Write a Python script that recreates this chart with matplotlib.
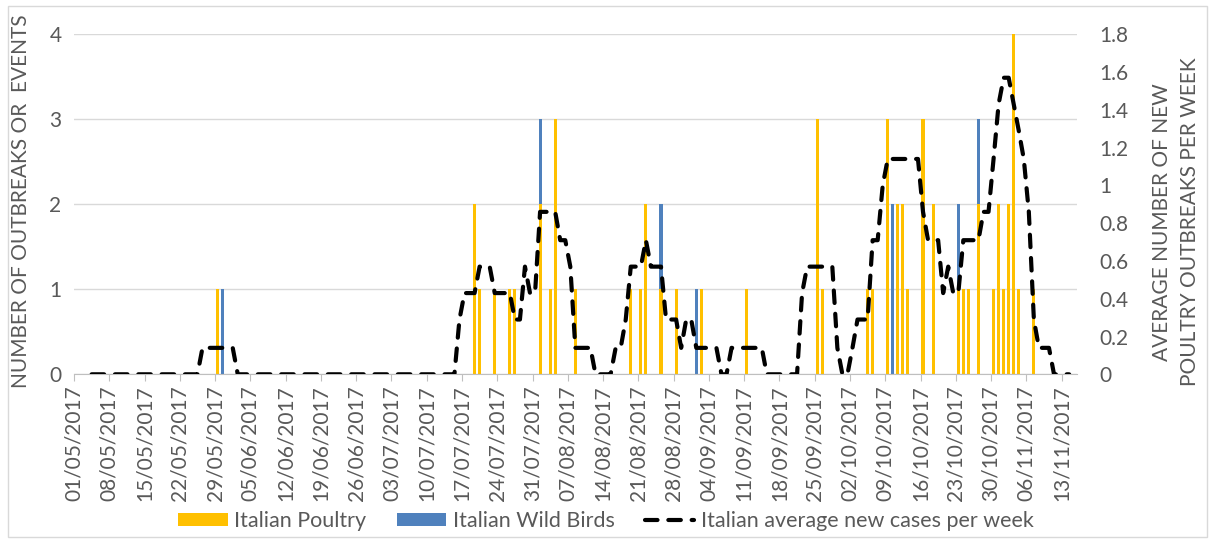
import matplotlib.pyplot as plt
import numpy as np
from datetime import date, timedelta
from matplotlib.patches import Rectangle

plt.rcParams['font.family'] = ['Lato', 'DejaVu Sans']

start = date(2017, 5, 1)
n_days = 199  # 01/05/2017 .. 16/11/2017

# outbreaks per day, day number counted from 01/05/2017
poultry_days = [28, 79, 80, 83, 86, 87, 92, 94, 95, 99, 110, 112, 113, 116, 119, 124,
                133, 147, 148, 157, 158, 161, 163, 164, 165, 168, 170,
                175, 176, 177, 179, 182, 183, 184, 185, 186, 187, 190]
poultry_n = [1, 2, 1, 1, 1, 1, 2, 1, 3, 1, 1, 1, 2, 1, 1, 1,
             1, 3, 1, 1, 1, 3, 2, 2, 1, 3, 2,
             1, 1, 1, 2, 1, 2, 1, 2, 4, 1, 1]
wild_days = [29, 92, 116, 123, 162, 175, 179]
wild_n = [1, 1, 1, 1, 2, 1, 1]

# weekly average line, one value per day from day 3 to day 197
avg_first_day = 3
avg_week = [0, 0, 0, 0, 0, 0, 0, 0, 0, 0, 0, 0, 0, 0, 0, 0, 0, 0, 0, 0, 0, 0,   # 3-24
            0.14, 0.14, 0.14, 0.14, 0.14, 0.14, 0.14,                             # 25-31
            0, 0, 0, 0, 0, 0, 0, 0, 0, 0, 0, 0, 0, 0, 0, 0, 0, 0, 0, 0, 0, 0,     # 32-53
            0, 0, 0, 0, 0, 0, 0, 0, 0, 0, 0, 0, 0, 0, 0, 0, 0, 0, 0, 0, 0, 0,     # 54-75
            0.29, 0.43, 0.43, 0.43, 0.57, 0.57, 0.57, 0.43, 0.43, 0.43, 0.43,     # 76-86
            0.29, 0.29, 0.57, 0.43, 0.43, 0.86, 0.86, 0.86, 0.86, 0.71, 0.71,     # 87-97
            0.57, 0.14, 0.14, 0.14, 0.14, 0, 0, 0, 0, 0.14, 0.14,                 # 98-108
            0.29, 0.57, 0.57, 0.57, 0.71, 0.57, 0.57, 0.57, 0.29, 0.29, 0.29,     # 109-119
            0.14, 0.29, 0.29, 0.14, 0.14, 0.14, 0.14, 0.14, 0, 0,                 # 120-129
            0.14, 0.14, 0.14, 0.14, 0.14, 0.14, 0.14, 0, 0, 0, 0, 0, 0, 0,       # 130-143
            0.43, 0.57, 0.57, 0.57, 0.57, 0.57, 0.57, 0.14, 0, 0,                 # 144-153
            0.14, 0.29, 0.29, 0.29, 0.71, 0.71, 1.0,                              # 154-160
            1.14, 1.14, 1.14, 1.14, 1.14, 1.14, 1.14,                             # 161-167
            0.86, 0.71, 0.71, 0.71, 0.43, 0.57, 0.43, 0.43,                       # 168-175
            0.71, 0.71, 0.71, 0.71, 0.86, 0.86, 1.14, 1.43, 1.57, 1.57,           # 176-185
            1.43, 1.29, 1.14, 0.86, 0.29, 0.14, 0.14, 0.14, 0, 0, 0, 0]           # 186-197

poultry = np.zeros(n_days)
poultry[poultry_days] = poultry_n
wild = np.zeros(n_days)
wild[wild_days] = wild_n
days = np.arange(n_days)

tick_days = list(range(0, 197, 7))
tick_labels = [(start + timedelta(days=d)).strftime('%d/%m/%Y') for d in tick_days]

grey = '#595959'
fig = plt.figure(figsize=(12.15, 5.42), dpi=100)
ax = fig.add_axes([74 / 1215, 1 - 374.3 / 542, 1002.7 / 1215, 340 / 542])

ax.bar(days + 0.5, poultry, width=0.62, color='#FFC000', label='Italian Poultry', zorder=2)
ax.bar(days + 0.5, wild, width=0.62, bottom=poultry, color='#4F81BD',
       label='Italian Wild Birds', zorder=2)

ax.set_xlim(0, n_days)
ax.set_ylim(0, 4)
ax.set_yticks([0, 1, 2, 3, 4])
ax.grid(axis='y', color='#D9D9D9', lw=1)
ax.set_axisbelow(True)
ax.set_xticks(tick_days)
ax.set_xticklabels(tick_labels, rotation=90)
ax.tick_params(axis='x', length=5, color='#BFBFBF', colors=grey, labelsize=15, pad=3)
ax.tick_params(axis='y', length=0, colors=grey, labelsize=15, pad=9)
for s in ['left', 'right', 'top']:
    ax.spines[s].set_visible(False)
ax.spines['bottom'].set_color('#BFBFBF')
ax.set_ylabel('NUMBER OF OUTBREAKS OR  EVENTS', color=grey, fontsize=15)
ax.yaxis.set_label_coords(-0.043, 0.51)

ax2 = ax.twinx()
x_avg = np.arange(avg_first_day, avg_first_day + len(avg_week)) + 0.5
ax2.plot(x_avg, avg_week, color='black', lw=3, linestyle=(0, (3, 2.6)),
         dash_capstyle='round', label='Italian average new cases per week', zorder=3)
ax2.set_ylim(0, 1.8)
r_ticks = [0, 0.2, 0.4, 0.6, 0.8, 1, 1.2, 1.4, 1.6, 1.8]
ax2.set_yticks(r_ticks)
ax2.set_yticklabels(['0', '0.2', '0.4', '0.6', '0.8', '1', '1.2', '1.4', '1.6', '1.8'])
ax2.tick_params(axis='y', length=0, colors=grey, labelsize=15, pad=16)
for s in ax2.spines.values():
    s.set_visible(False)

fig.text(1176 / 1215, 1 - 222 / 542,
         'AVERAGE NUMBER OF NEW\nPOULTRY OUTBREAKS PER WEEK',
         rotation=90, ha='center', va='center', multialignment='center',
         color=grey, fontsize=15, linespacing=1.45)

h1, l1 = ax.get_legend_handles_labels()
h2, l2 = ax2.get_legend_handles_labels()
fig.legend(h1 + h2, l1 + l2, loc='center', bbox_to_anchor=(606 / 1215, 1 - 521 / 542),
           ncol=3, frameon=False, fontsize=15.5, labelcolor=grey, handlelength=2.3,
           handleheight=0.55, columnspacing=1.4, handletextpad=0.3, borderaxespad=0)

fig.patches.append(Rectangle((8 / 1215, 5 / 542), 1199 / 1215, 531 / 542,
                             transform=fig.transFigure, fill=False,
                             edgecolor='#D9D9D9', lw=1))

fig.savefig('out.png', dpi=100)
